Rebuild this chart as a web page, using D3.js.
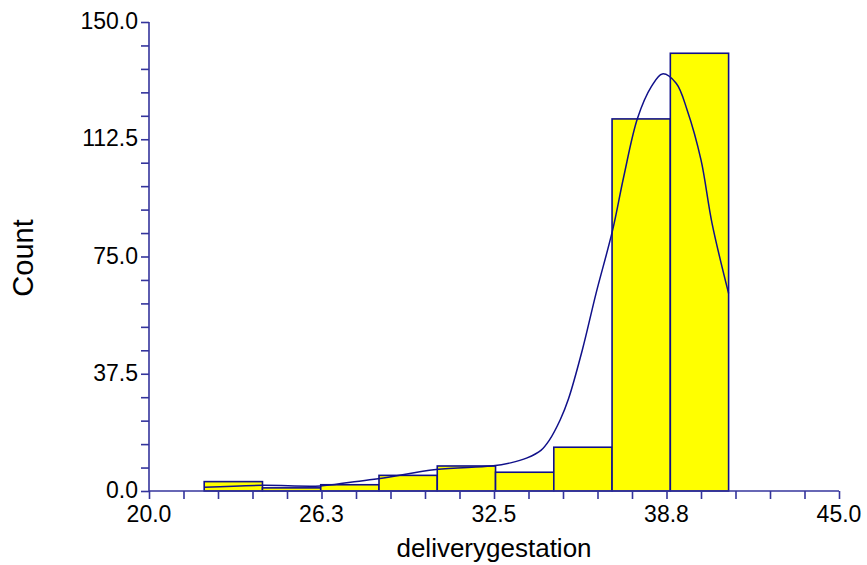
<!DOCTYPE html>
<html>
<head>
<meta charset="utf-8">
<script src="https://cdn.jsdelivr.net/npm/d3@7"></script>
<style>
  html, body { margin: 0; padding: 0; background: #fff; }
  svg { display: block; }
  text { font-family: "Liberation Sans", Arial, sans-serif; fill: #000; }
</style>
</head>
<body>
<svg id="chart" width="867" height="565"></svg>
<script>
// Histogram of delivery gestation (weeks), 9 equal-width bins from 22 to 41
const binLow = 22;
const binHigh = 41;
const counts = [3, 1, 2, 5, 8, 6, 14, 119, 140];

// Smoothed density overlay, scaled to counts
const densityX = [22.0, 24.1, 26.2, 27.3, 28.3, 30.4, 32.4, 33.1, 33.7, 34.2, 34.5, 34.9, 35.2,
                  35.7, 36.2, 36.8, 37.2, 37.7, 38.2, 38.6, 39.1, 39.5, 40.0, 40.4, 41.0];
const densityY = [1.2, 1.8, 1.6, 2.8, 3.9, 6.9, 8.0, 9.0, 10.6, 13.0, 16.2, 22.8, 29.5,
                  45.1, 63.3, 83.5, 100.5, 119.2, 129.3, 133.4, 130.4, 121.8, 105.9, 85.6, 63.2];

// Axis ticks
const xTicks = d3.range(0, 21).map(i => 20 + i * 1.25);
const xLabels = [20.0, 26.25, 32.5, 38.75, 45.0];
const xLabelText = ["20.0", "26.3", "32.5", "38.8", "45.0"];
const yTicks = d3.range(0, 21).map(i => i * 7.5);
const yLabels = [0, 37.5, 75, 112.5, 150];
const yLabelText = ["0.0", "37.5", "75.0", "112.5", "150.0"];

const xTitle = "deliverygestation";
const yTitle = "Count";

const svg = d3.select("#chart");
const axisColor = "#34349c";
const markColor = "#10108a";

const x = d3.scaleLinear().domain([20, 45]).range([149, 839]);
const y = d3.scaleLinear().domain([0, 150]).range([491, 22]);

const binWidth = (binHigh - binLow) / counts.length;
const bins = counts.map((c, i) => ({ x0: binLow + i * binWidth, x1: binLow + (i + 1) * binWidth, c }));

// Bars
svg.append("g").selectAll("rect").data(bins).join("rect")
  .attr("x", d => x(d.x0))
  .attr("y", d => y(d.c))
  .attr("width", d => x(d.x1) - x(d.x0))
  .attr("height", d => y(0) - y(d.c))
  .attr("fill", "#ffff00")
  .attr("stroke", markColor)
  .attr("stroke-width", 1.6);

// Density curve
const pts = densityX.map((v, i) => [v, densityY[i]]);
svg.append("path")
  .datum(pts)
  .attr("fill", "none")
  .attr("stroke", markColor)
  .attr("stroke-width", 1.5)
  .attr("d", d3.line().x(d => x(d[0])).y(d => y(d[1])).curve(d3.curveCatmullRom.alpha(0.5)));

// X axis
const xAxis = svg.append("g")
  .attr("transform", `translate(0,${y(0)})`)
  .call(d3.axisBottom(x).tickValues(xTicks).tickSize(8).tickFormat(""));
xAxis.select(".domain").attr("stroke", axisColor).attr("stroke-width", 1.6).attr("d", `M${x(20)},0H${x(45)}`);
xAxis.selectAll(".tick line").attr("stroke", axisColor).attr("stroke-width", 1.6);

svg.append("g").selectAll("text").data(xLabels).join("text")
  .attr("x", d => x(d))
  .attr("y", y(0) + 30.5)
  .attr("text-anchor", "middle")
  .style("font-size", "23px")
  .text((d, i) => xLabelText[i]);

// Y axis
const yAxis = svg.append("g")
  .attr("transform", `translate(${x(20)},0)`)
  .call(d3.axisLeft(y).tickValues(yTicks).tickSize(8).tickFormat(""));
yAxis.select(".domain").attr("stroke", axisColor).attr("stroke-width", 1.6).attr("d", `M0,${y(0)}V${y(150)}`);
yAxis.selectAll(".tick line").attr("stroke", axisColor).attr("stroke-width", 1.6);

svg.append("g").selectAll("text").data(yLabels).join("text")
  .attr("x", x(20) - 11)
  .attr("y", d => y(d) + 7)
  .attr("text-anchor", "end")
  .style("font-size", "23px")
  .text((d, i) => yLabelText[i]);

// Axis titles
svg.append("text")
  .attr("x", (x(20) + x(45)) / 2)
  .attr("y", 556.5)
  .attr("text-anchor", "middle")
  .style("font-size", "26px")
  .text(xTitle);

svg.append("text")
  .attr("transform", `translate(33,258) rotate(-90)`)
  .attr("text-anchor", "middle")
  .style("font-size", "29px")
  .text(yTitle);
</script>
</body>
</html>
